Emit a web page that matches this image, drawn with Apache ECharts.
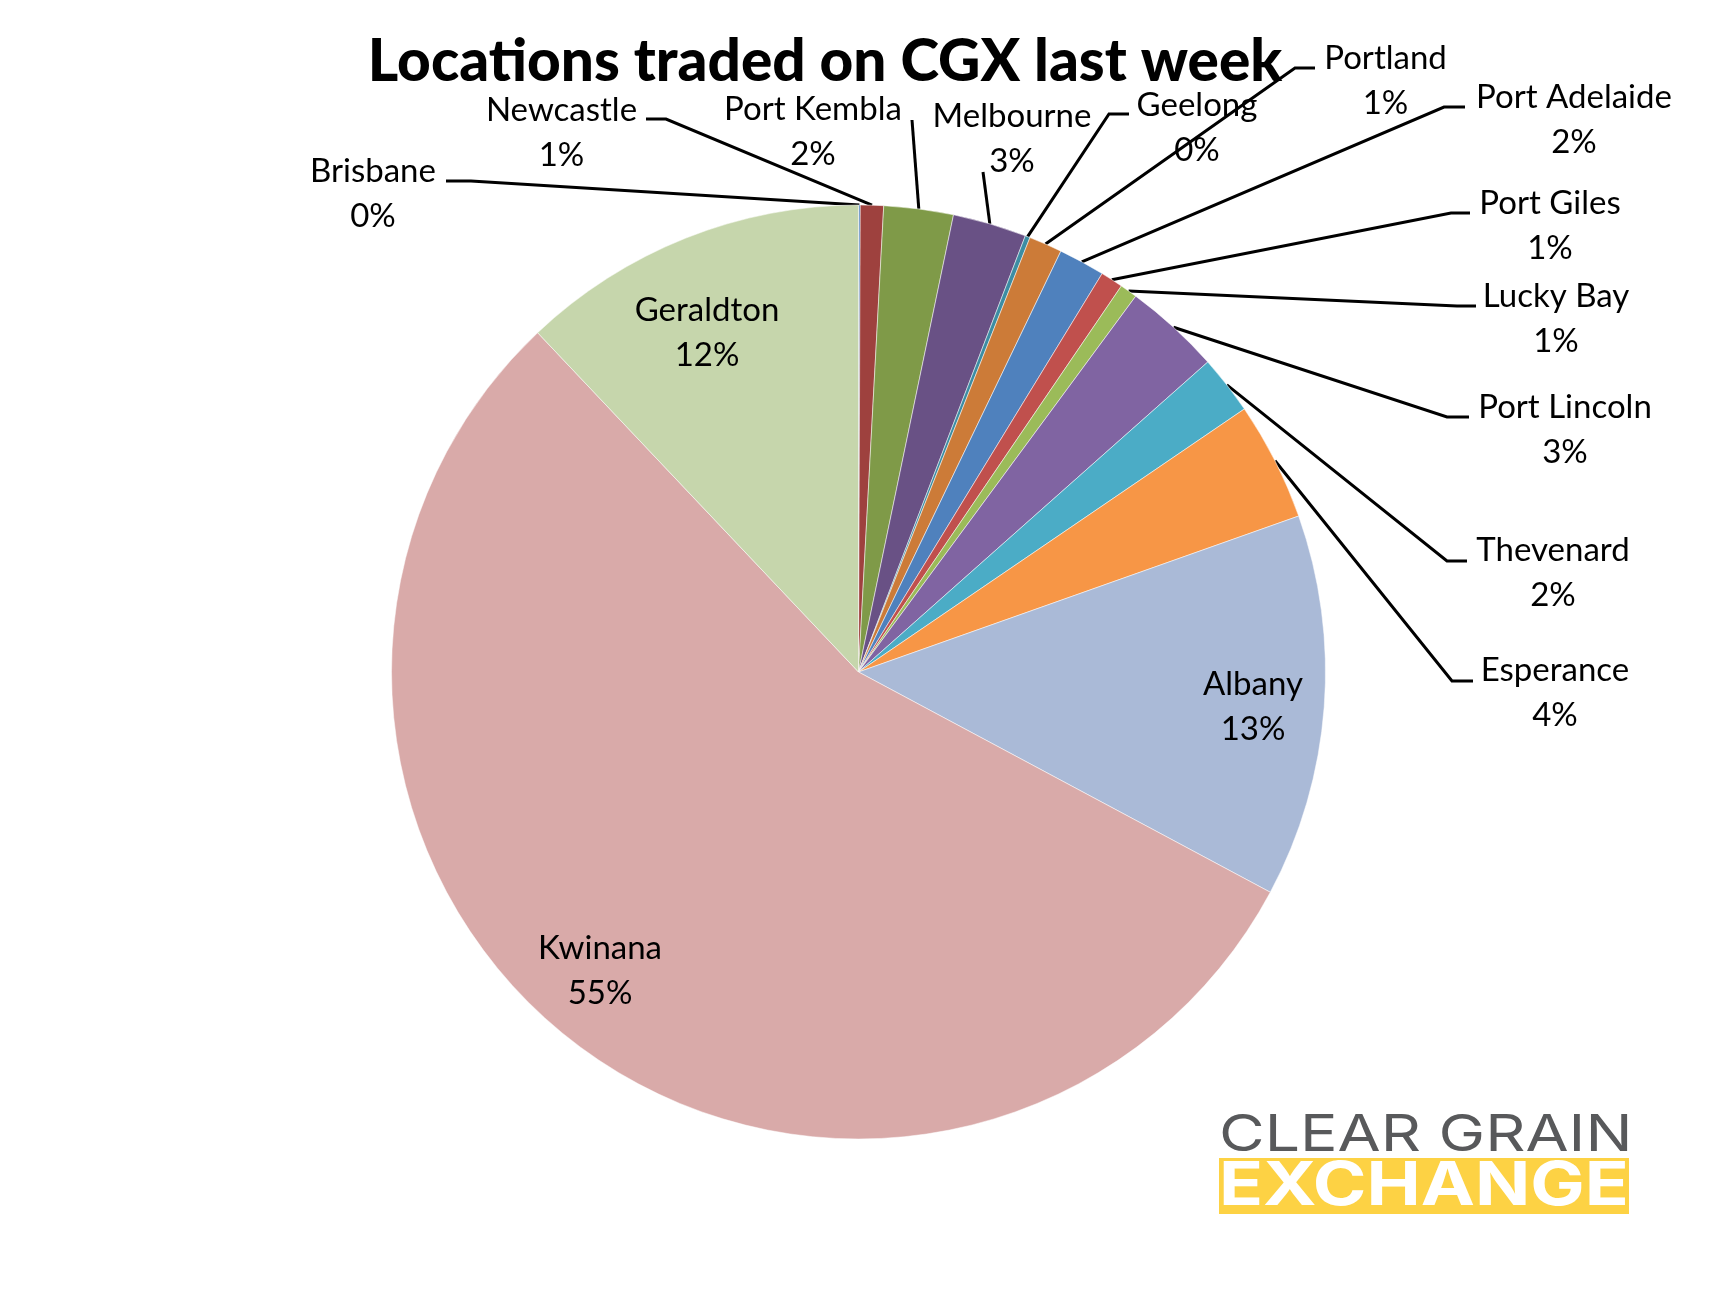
<!DOCTYPE html>
<html>
<head>
<meta charset="utf-8">
<title>Locations traded on CGX last week</title>
<script src="https://cdn.jsdelivr.net/npm/echarts@6/dist/echarts.min.js"></script>
<style>
  html, body { margin: 0; padding: 0; background: #fff; }
  #main { width: 1716px; height: 1291px; }
</style>
</head>
<body>
<div id="main"></div>
<script>
var chartTitle = 'Locations traded on CGX last week';

var locations = ['Brisbane', 'Newcastle', 'Port Kembla', 'Melbourne', 'Geelong', 'Portland', 'Port Adelaide',
    'Port Giles', 'Lucky Bay', 'Port Lincoln', 'Thevenard', 'Esperance', 'Albany', 'Kwinana', 'Geraldton'];
var shares = [0.06, 0.8, 2.4, 2.55, 0.17, 1.15, 1.6, 0.78, 0.6, 3.33, 2.03, 4.1, 13.23, 55.1, 12.05];

var sliceColors = ['#4a7ebb', '#9e413e', '#7f9a48', '#695185', '#3c8da3', '#cc7b38', '#4f81bd', '#c0504d',
    '#9bbb59', '#8064a2', '#4bacc6', '#f79646', '#aabad7', '#d9aaa9', '#c6d6ac'];

// label centres, same order as locations
var labelCentres = [[373, 193.5], [561.5, 132.5], [813, 131.5], [1012, 138.5], [1197, 127.5], [1385.5, 81], [1574, 119.5],
    [1550, 225.5], [1556, 319], [1565, 430], [1553, 573], [1555, 693], [1253, 707], [600, 971], [707, 333]];

// leader lines after the point on the pie edge: elbow, then end (null = no line)
var leaderBends = [
    [[471, 181], [446, 181]],
    [[666, 119], [646, 119]],
    [[912, 120]],
    [[983, 172]],
    [[1109, 114], [1129, 114]],
    [[1295, 68], [1315, 68]],
    [[1444, 107], [1465, 107]],
    [[1451, 213], [1470, 213]],
    [[1457, 306], [1476, 306]],
    [[1447, 417], [1469, 417]],
    [[1447, 561], [1467, 561]],
    [[1452, 681], [1473, 681]],
    null, null, null
];

var total = shares.reduce(function (a, b) { return a + b; }, 0);

var pieData = locations.map(function (name, i) {
    return {
        name: name,
        value: shares[i],
        labelLine: { show: leaderBends[i] !== null }
    };
});

var myChart = echarts.init(document.getElementById('main'));

var option = {
    animation: false,
    color: sliceColors,
    title: {
        text: chartTitle,
        left: 820,
        top: 28,
        textAlign: 'center',
        textStyle: { fontFamily: 'Lato', fontSize: 58.5, fontWeight: 900, color: '#000' }
    },
    series: [
        {
            type: 'pie',
            center: [858.5, 672],
            radius: [0, 467],
            startAngle: 90,
            clockwise: true,
            avoidLabelOverlap: false,
            data: pieData,
            itemStyle: { borderColor: '#fff', borderWidth: 0.5 },
            label: {
                position: 'outside',
                fontFamily: 'Lato',
                fontSize: 33,
                lineHeight: 45,
                color: '#000',
                align: 'center',
                formatter: function (p) {
                    return p.name + '\n' + Math.round(p.value / total * 100) + '%';
                }
            },
            labelLine: {
                show: true,
                lineStyle: { color: '#000', width: 3 }
            },
            labelLayout: function (params) {
                var i = params.dataIndex;
                var out = {
                    x: labelCentres[i][0],
                    y: labelCentres[i][1],
                    align: 'center',
                    verticalAlign: 'middle',
                    hideOverlap: false
                };
                if (leaderBends[i] && params.labelLinePoints) {
                    out.labelLinePoints = [params.labelLinePoints[0]].concat(leaderBends[i]);
                }
                return out;
            },
            emphasis: { disabled: true },
            silent: true
        }
    ],
    graphic: [
        {
            type: 'text',
            x: 1219,
            y: 1136,
            scaleX: 1.226,
            style: { text: 'CLEAR GRAIN', fontFamily: 'Inter', fontSize: 51, fontWeight: 400, fill: '#58595b', verticalAlign: 'middle' }
        },
        { type: 'rect', shape: { x: 1219, y: 1158, width: 410, height: 56 }, style: { fill: '#fdd244' } },
        {
            type: 'text',
            x: 1219,
            y: 1187,
            scaleX: 1.21,
            style: { text: 'EXCHANGE', fontFamily: 'Inter', fontSize: 60, fontWeight: 700, fill: '#fff', verticalAlign: 'middle' }
        }
    ]
};

myChart.setOption(option);
</script>
</body>
</html>
